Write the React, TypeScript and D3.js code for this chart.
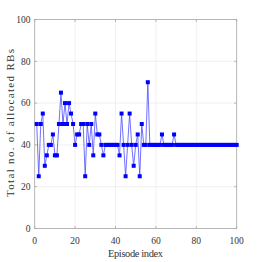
import React from "react";
import * as d3 from "d3";

const episodes: number[] = Array.from({ length: 100 }, (_, i) => i + 1);
const allocatedRBs: number[] = [
  50, 25, 50, 55, 30, 35, 40, 40, 45, 35,
  35, 50, 65, 50, 60, 50, 60, 55, 50, 40,
  45, 45, 50, 50, 25, 50, 40, 50, 35, 55,
  45, 45, 40, 35, 40, 40, 40, 40, 40, 40,
  40, 35, 55, 40, 25, 40, 55, 40, 30, 40,
  45, 25, 50, 40, 40, 70, 40, 40, 40, 40,
  40, 40, 45, 40, 40, 40, 40, 40, 45, 40,
  40, 40, 40, 40, 40, 40, 40, 40, 40, 40,
  40, 40, 40, 40, 40, 40, 40, 40, 40, 40,
  40, 40, 40, 40, 40, 40, 40, 40, 40, 40,
];
const xTicks: number[] = [0, 20, 40, 60, 80, 100];
const yTicks: number[] = [0, 20, 40, 60, 80, 100];
const xLabel = "Episode index";
const yLabel = "Total no. of allocated RBs";

export default function App() {
  const W = 262, H = 262;
  const left = 34.7, right = 236.7, top = 19.5, bottom = 228.5;
  const x = d3.scaleLinear().domain([0, 100]).range([left, right]);
  const y = d3.scaleLinear().domain([0, 100]).range([bottom, top]);
  const line = d3.line<number>().x((_, i) => x(episodes[i])).y((d) => y(d));
  const font = "'Liberation Serif', 'DejaVu Serif', serif";
  const axisColor = "#a6a6a6";
  const gridColor = "#ececec";
  const tl = 2.5;
  const ms = 4;
  return (
    <svg width={W} height={H} style={{ position: "absolute", left: 0, top: 0, background: "#fff" }}>
      <rect x={0} y={0} width={W} height={H} fill="#fff" />
      {xTicks.slice(1, -1).map((t) => (
        <line key={"gx" + t} x1={x(t)} x2={x(t)} y1={top} y2={bottom} stroke={gridColor} strokeWidth={0.8} />
      ))}
      {yTicks.slice(1, -1).map((t) => (
        <line key={"gy" + t} x1={left} x2={right} y1={y(t)} y2={y(t)} stroke={gridColor} strokeWidth={0.8} />
      ))}
      <rect x={left} y={top} width={right - left} height={bottom - top} fill="none" stroke={axisColor} strokeWidth={0.8} />
      {xTicks.map((t) => (
        <g key={"tx" + t}>
          <line x1={x(t)} x2={x(t)} y1={bottom} y2={bottom - tl} stroke={axisColor} strokeWidth={0.8} />
          <line x1={x(t)} x2={x(t)} y1={top} y2={top + tl} stroke={axisColor} strokeWidth={0.8} />
          <text x={x(t)} y={243.5} textAnchor="middle" fontFamily={font} fontSize={9.5} fill="#333">{t}</text>
        </g>
      ))}
      {yTicks.map((t) => (
        <g key={"ty" + t}>
          <line x1={left} x2={left + tl} y1={y(t)} y2={y(t)} stroke={axisColor} strokeWidth={0.8} />
          <line x1={right} x2={right - tl} y1={y(t)} y2={y(t)} stroke={axisColor} strokeWidth={0.8} />
          <text x={30.5} y={y(t) + 3.2} textAnchor="end" fontFamily={font} fontSize={9.5} fill="#333">{t}</text>
        </g>
      ))}
      <path d={line(allocatedRBs) || ""} fill="none" stroke="#4d4dff" strokeWidth={0.8} />
      {allocatedRBs.map((v, i) => (
        <rect key={"m" + i} x={x(episodes[i]) - ms / 2} y={y(v) - ms / 2} width={ms} height={ms} fill="#0000ff" />
      ))}
      <text x={135.5} y={256.5} textAnchor="middle" fontFamily={font} fontSize={10.5} fill="#333" textLength={55}>{xLabel}</text>
      <text transform={`translate(13.5,${123}) rotate(-90)`} textAnchor="middle" fontFamily={font} fontSize={11} fill="#333" textLength={148}>{yLabel}</text>
    </svg>
  );
}
